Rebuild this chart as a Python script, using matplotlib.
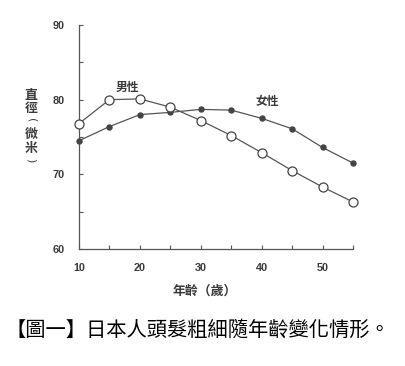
import matplotlib
matplotlib.use("Agg")
import matplotlib.pyplot as plt

ages = [10, 15, 20, 25, 30, 35, 40, 45, 50, 55]
male = [76.8, 80.0, 80.1, 79.0, 77.2, 75.2, 72.9, 70.5, 68.3, 66.3]
female = [74.5, 76.4, 78.0, 78.3, 78.7, 78.6, 77.5, 76.1, 73.6, 71.5]
xticks = [10, 20, 30, 40, 50]
yticks = [60, 70, 80, 90]

CJK = ['Noto Sans CJK TC', 'DejaVu Sans']
ink = '#3a3a3a'
line = '#555555'

fig = plt.figure(figsize=(4.05, 3.66), dpi=100)
ax = fig.add_axes([79/405, 1-249/366, 274/405, 224/366])
ax.plot(ages, female, color=line, lw=0.9, marker='o', ms=3.6,
        mfc='#444444', mec='#444444', clip_on=False, zorder=3)
ax.plot(ages, male, color=line, lw=0.9, marker='o', ms=6.5,
        mfc='white', mec='#444444', mew=0.9, clip_on=False, zorder=4)

ax.set_xlim(10, 55)
ax.set_ylim(60, 90)
ax.set_xticks(xticks)
ax.set_xticks(range(15, 56, 5), minor=True)
ax.set_yticks(yticks)
ax.set_yticks([65, 75, 85], minor=True)
for s in ['top', 'right']:
    ax.spines[s].set_visible(False)
for s in ['left', 'bottom']:
    ax.spines[s].set_color(line)
    ax.spines[s].set_linewidth(0.9)
ax.tick_params(which='both', direction='in', length=3, width=0.8, color=line)
ax.tick_params(axis='y', which='major', pad=10)
ax.tick_params(axis='x', which='major', pad=10)
for lab in ax.get_xticklabels() + ax.get_yticklabels():
    lab.set_fontfamily('Liberation Sans')
    lab.set_fontweight('bold')
    lab.set_fontsize(7.8)
    lab.set_color(ink)

ax.text(17.9, 81.7, '男性', family=CJK, fontsize=8.5, color=ink,
        ha='center', va='center', fontweight='bold')
ax.text(41.0, 79.7, '女性', family=CJK, fontsize=8.5, color=ink,
        ha='center', va='center', fontweight='bold')

ychars = ['直', '徑', '(', '微', '米', ')']
ypos = [95, 108, 120, 134, 148, 160]
for c, yp in zip(ychars, ypos):
    if c in '()':
        fig.text(31/405, 1-yp/366, c, family='DejaVu Sans', fontsize=8,
                 color=ink, ha='center', va='center', rotation=-90,
                 rotation_mode='anchor')
    else:
        fig.text(31/405, 1-yp/366, c, family=CJK, fontsize=9.3, color=ink,
                 ha='center', va='center', fontweight='bold')

fig.text(205/405, 1-291/366, '年齡（歲）', family=CJK, fontsize=9.3, color=ink,
         ha='center', va='center', fontweight='bold')

fig.text(198/405, 1-330/366, '【圖一】日本人頭髮粗細隨年齡變化情形。', family=CJK,
         fontsize=14.6, color='black', ha='center', va='center', fontweight='light')

fig.savefig('out.png', dpi=100, facecolor='white')
